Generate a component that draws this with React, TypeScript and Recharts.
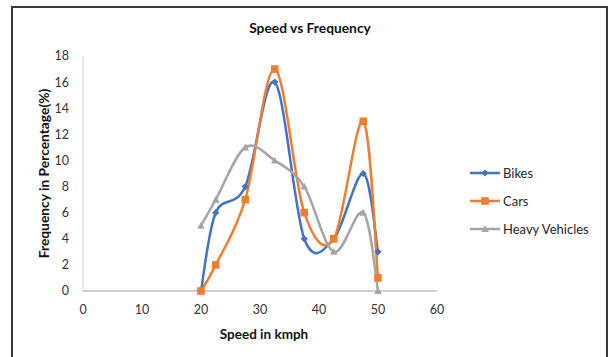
import { LineChart, Line, XAxis, YAxis, Legend, Label } from "recharts";

const speeds = [20, 22.5, 27.5, 32.5, 37.5, 42.5, 47.5, 50];
const bikes = [0, 6, 8, 16, 4, 4, 9, 3];
const cars = [0, 2, 7, 17, 6, 4, 13, 1];
const heavyVehicles = [5, 7, 11, 10, 8, 3, 6, 0];
const speedTicks = [0, 10, 20, 30, 40, 50, 60];
const frequencyTicks = [0, 2, 4, 6, 8, 10, 12, 14, 16, 18];

const data = speeds.map((speed, i) => ({
  speed,
  bikes: bikes[i],
  cars: cars[i],
  heavy: heavyVehicles[i],
}));

const FONT = "Lato, 'Open Sans', sans-serif";

// smoothed line like office charts: bezier with control points at 1/6 of neighbour span
const smoothCurve = (context: any) => {
  let pts: number[][] = [];
  return {
    areaStart() {},
    areaEnd() {},
    lineStart() {
      pts = [];
    },
    point(x: number, y: number) {
      pts.push([+x, +y]);
    },
    lineEnd() {
      if (!pts.length) return;
      context.moveTo(pts[0][0], pts[0][1]);
      for (let i = 0; i < pts.length - 1; i++) {
        const p0 = pts[Math.max(i - 1, 0)];
        const p1 = pts[i];
        const p2 = pts[i + 1];
        const p3 = pts[Math.min(i + 2, pts.length - 1)];
        context.bezierCurveTo(
          p1[0] + (p2[0] - p0[0]) / 6,
          p1[1] + (p2[1] - p0[1]) / 6,
          p2[0] - (p3[0] - p1[0]) / 6,
          p2[1] - (p3[1] - p1[1]) / 6,
          p2[0],
          p2[1]
        );
      }
    },
  };
};

type Shape = "diamond" | "square" | "triangle";

const marker = (shape: Shape, cx: number, cy: number, color: string, key?: string) => {
  if (shape === "diamond") {
    const r = 3.6;
    return (
      <path key={key} d={`M${cx},${cy - r}L${cx + r},${cy}L${cx},${cy + r}L${cx - r},${cy}Z`} fill={color} />
    );
  }
  if (shape === "square") {
    const s = 3.8;
    return <rect key={key} x={cx - s} y={cy - s} width={s * 2} height={s * 2} fill={color} />;
  }
  const h = 3.8;
  return (
    <path key={key} d={`M${cx},${cy - h}L${cx + h},${cy + h * 0.8}L${cx - h},${cy + h * 0.8}Z`} fill={color} />
  );
};

const series = [
  { key: "bikes", name: "Bikes", color: "#4472C4", shape: "diamond" as Shape },
  { key: "cars", name: "Cars", color: "#ED7D31", shape: "square" as Shape },
  { key: "heavy", name: "Heavy Vehicles", color: "#A5A5A5", shape: "triangle" as Shape },
];

const renderLegend = () => (
  <div style={{ fontFamily: FONT, fontSize: 13, color: "#262626" }}>
    {series.map((s) => (
      <div key={s.key} style={{ display: "flex", alignItems: "center", height: 28 }}>
        <svg width={33} height={12}>
          <line x1={0} y1={6} x2={30} y2={6} stroke={s.color} strokeWidth={2.5} />
          {marker(s.shape, 15, 6, s.color)}
        </svg>
        <span>{s.name}</span>
      </div>
    ))}
  </div>
);

export default function App() {
  return (
    <div
      style={{
        position: "absolute",
        left: 0,
        top: 0,
        width: 612,
        height: 357,
        overflow: "hidden",
        background: "#fff",
      }}
    >
      <div
        style={{
          position: "absolute",
          left: 11,
          top: 6,
          width: 593,
          height: 400,
          border: "2px solid #3a3a3a",
        }}
      />
      <div
        style={{
          position: "absolute",
          left: 0,
          width: 620,
          top: 21,
          textAlign: "center",
          fontFamily: FONT,
          fontWeight: 700,
          fontSize: 13.8,
          lineHeight: "13px",
          color: "#111",
        }}
      >
        Speed vs Frequency
      </div>
      <div style={{ position: "absolute", left: 0, top: 0 }}>
        <LineChart
          width={612}
          height={357}
          data={data}
          margin={{ top: 56, right: 175, bottom: 36, left: 23 }}
        >
          <XAxis
            dataKey="speed"
            type="number"
            domain={[0, 60]}
            ticks={speedTicks}
            height={30}
            tickLine={false}
            tickSize={0}
            tickMargin={14}
            axisLine={{ stroke: "#bfbfbf", strokeWidth: 1.5 }}
            tick={{ fill: "#333", fontSize: 12.5, fontFamily: FONT }}
          >
            <Label
              value="Speed in kmph"
              position="bottom"
              offset={8}
              dx={4}
              style={{ fontFamily: FONT, fontWeight: 700, fontSize: 13.5, fill: "#111" }}
            />
          </XAxis>
          <YAxis
            type="number"
            domain={[0, 18]}
            ticks={frequencyTicks}
            width={60}
            tickLine={false}
            tickSize={0}
            tickMargin={14}
            axisLine={{ stroke: "#d0d0d0", strokeWidth: 1 }}
            tick={{ fill: "#333", fontSize: 12.5, fontFamily: FONT }}
          >
            <Label
              content={({ viewBox }: any) => {
                const x = viewBox.x + viewBox.width - 40;
                const y = viewBox.y + viewBox.height / 2;
                return (
                  <text
                    x={x}
                    y={y}
                    transform={`rotate(-90, ${x}, ${y})`}
                    textAnchor="middle"
                    dominantBaseline="central"
                    style={{ fontFamily: FONT, fontWeight: 700, fontSize: 13.8, fill: "#111" }}
                  >
                    Frequency in Percentage(%)
                  </text>
                );
              }}
            />
          </YAxis>
          <Legend
            layout="vertical"
            align="center"
            verticalAlign="middle"
            wrapperStyle={{ left: 470, top: 159, width: 140 }}
            content={renderLegend}
          />
          {series.map((s) => (
            <Line
              key={s.key}
              dataKey={s.key}
              name={s.name}
              type={smoothCurve as any}
              stroke={s.color}
              strokeWidth={2.5}
              isAnimationActive={false}
              dot={(props: any) => marker(s.shape, props.cx, props.cy, s.color, `${s.key}-${props.index}`)}
              activeDot={false}
            />
          ))}
        </LineChart>
      </div>
    </div>
  );
}
